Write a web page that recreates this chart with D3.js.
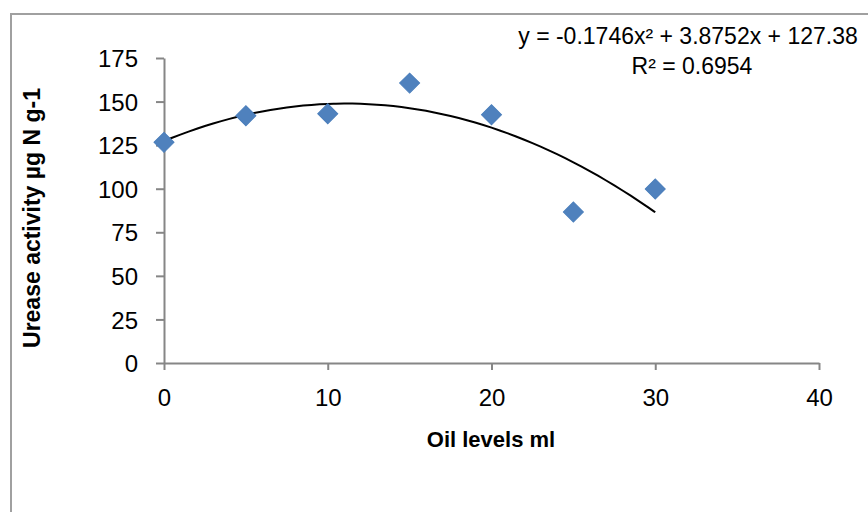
<!DOCTYPE html>
<html>
<head>
<meta charset="utf-8">
<script src="https://cdn.jsdelivr.net/npm/d3@7"></script>
<style>
	body { margin: 0; background: #fff; }
	text { font-family: "Liberation Sans", Arial, sans-serif; fill: #000; }
</style>
</head>
<body>
<div id="chart"></div>
<script>
// data
var oilLevels = [0, 5, 10, 15, 20, 25, 30];
var ureaseValues = [126.6, 141.9, 143.0, 160.6, 142.4, 86.6, 99.8];
var xTicks = [0, 10, 20, 30, 40];
var yTicks = [0, 25, 50, 75, 100, 125, 150, 175];
// polynomial trendline coefficients (c2, c1, c0) as printed on the chart
var trendCoef = [-0.1746, 3.8752, 127.38];
var trendLabel = "y = -0.1746x² + 3.8752x + 127.38";
var r2Label = "R² = 0.6954";

(function() {
	var width = 868,
		height = 512;

	var svg = d3.select("#chart")
		.append("svg")
		.attr("width", width)
		.attr("height", height);

	// chart area outline (only left and top show in the picture)
	svg.append("path")
		.attr("d", "M11," + height + "V14H" + width)
		.attr("fill", "none")
		.attr("stroke", "#a0a0a0")
		.attr("stroke-width", 2);

	var x = d3.scaleLinear().domain([0, 40]).range([164, 819]);
	var y = d3.scaleLinear().domain([0, 175]).range([363, 58]);

	var xAxis = svg.append("g")
		.attr("transform", "translate(0," + y(0) + ")")
		.call(d3.axisBottom(x).tickValues(xTicks).tickSize(7).tickPadding(14).tickSizeOuter(0));

	var yAxis = svg.append("g")
		.attr("transform", "translate(" + x(0) + ",0)")
		.call(d3.axisLeft(y).tickValues(yTicks).tickSize(8).tickPadding(18).tickSizeOuter(0));

	[xAxis, yAxis].forEach(function(a) {
		a.select(".domain").attr("stroke", "#868686").attr("stroke-width", 2);
		a.selectAll(".tick line").attr("stroke", "#868686").attr("stroke-width", 2);
		a.selectAll(".tick text")
			.style("font-family", "'Liberation Sans', Arial, sans-serif")
			.style("font-size", "24px")
			.attr("fill", "#000");
	});
	yAxis.selectAll(".tick text").attr("dy", "0.36em");
	xAxis.selectAll(".tick text").attr("dy", "0.92em");

	// trendline
	var line = d3.line()
		.x(function(d) { return x(d); })
		.y(function(d) { return y(trendCoef[0] * d * d + trendCoef[1] * d + trendCoef[2]); })
		.curve(d3.curveBasis);

	svg.append("path")
		.datum(d3.range(0, 30.01, 0.5))
		.attr("d", line)
		.attr("fill", "none")
		.attr("stroke", "#000")
		.attr("stroke-width", 2);

	// diamonds
	var diamond = d3.symbol().type(d3.symbolSquare).size(200);
	svg.selectAll(".pt")
		.data(oilLevels)
		.enter().append("path")
		.attr("class", "pt")
		.attr("d", diamond)
		.attr("transform", function(d, i) {
			return "translate(" + x(d) + "," + y(ureaseValues[i]) + ") rotate(45)";
		})
		.attr("fill", "#4f81bd")
		.attr("stroke", "#4a7ebb")
		.attr("stroke-width", 1);

	// axis titles
	svg.append("text")
		.attr("x", 491)
		.attr("y", 447)
		.attr("text-anchor", "middle")
		.style("font-weight", "bold")
		.style("font-size", "22px")
		.text("Oil levels ml");

	svg.append("text")
		.attr("transform", "translate(40,218) rotate(-90)")
		.attr("text-anchor", "middle")
		.style("font-weight", "bold")
		.style("font-size", "23px")
		.text("Urease activity µg N g-1");

	// equation labels
	svg.append("text")
		.attr("x", 688)
		.attr("y", 44)
		.attr("text-anchor", "middle")
		.style("font-size", "23px")
		.text(trendLabel);

	svg.append("text")
		.attr("x", 692)
		.attr("y", 74)
		.attr("text-anchor", "middle")
		.style("font-size", "23px")
		.text(r2Label);
})();
</script>
</body>
</html>
